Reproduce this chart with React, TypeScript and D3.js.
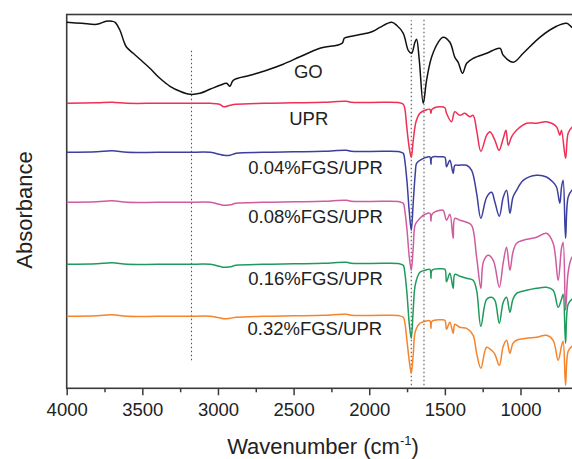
import React, {useEffect, useRef} from 'react';
import * as d3 from "d3";

// spectra as [wavenumber, shift from the trace's own baseline]
const goSpectrum = [
    [4000, 0], [3900, -1], [3800, -2], [3740, 1], [3700, 1], [3680, 0], [3648, -8], [3620, -20],
    [3604, -25], [3560, -31], [3516, -37], [3450, -46], [3384, -56], [3317, -64], [3251, -69],
    [3185, -72], [3119, -71], [3053, -67], [2987, -63], [2943, -61], [2921, -64], [2899, -58],
    [2788, -53], [2678, -48], [2569, -42], [2458, -34.5], [2326, -26], [2180, -21], [2165, -16],
    [2149, -15], [2017, -11], [1975, -9], [1929, -5], [1852, 0], [1819, -3], [1775, -11],
    [1742, -28], [1720, -31], [1698, -20], [1687, -17], [1669, -38], [1643, -81], [1621, -58],
    [1588, -35], [1544, -20], [1511, -15], [1467, -20], [1434, -35], [1412, -40], [1383, -51],
    [1356, -41], [1313, -36], [1224, -31], [1136, -26], [1114, -33], [1048, -40], [982, -31],
    [872, -15], [762, -4], [695, -1], [660, -5], [620, -8]
];

const uprSpectrum = [
    [4000, 0], [3800, 0.5], [3700, 1], [3600, 0], [3400, 0], [3200, 0], [3050, 0], [2990, -1],
    [2960, -3.5], [2920, -2], [2880, -1], [2700, 0], [2500, 0.5], [2300, 1], [2150, 2], [2120, 1],
    [1900, 1], [1800, 0.5], [1775, -1], [1765, -5], [1753, -22], [1735, -45], [1722, -54],
    [1709, -37], [1690, -18], [1665, -10], [1630, -7], [1599, -6], [1592, -10], [1585, -6],
    [1533, -3.5], [1500, -4.5], [1489, -10], [1456, -18.5], [1434, -8.5], [1401, -12], [1368, -10],
    [1335, -13.5], [1313, -12], [1290, -27], [1262, -48], [1224, -32], [1202, -28.5], [1169, -37],
    [1142, -47], [1114, -35], [1096, -27], [1081, -42], [1059, -33.5], [1026, -27], [960, -20],
    [894, -20], [828, -18.5], [762, -23.5], [740, -32], [729, -27], [702, -55], [685, -30],
    [660, -24], [620, -22]
];

const fgs004Spectrum = [
    [4000, 0], [3800, 0.5], [3700, 1.5], [3600, 0], [3400, 0], [3200, 0], [3050, 0], [2990, -2],
    [2960, -3], [2920, -3], [2880, -1], [2700, 0], [2500, 0.5], [2300, 1], [2150, 2], [2120, 1],
    [1900, 1], [1800, 0.5], [1775, -1], [1765, -8], [1750, -30], [1735, -60], [1722, -78],
    [1709, -50], [1695, -20], [1687, -11], [1654, -7], [1621, -5], [1599, -4.5], [1592, -12],
    [1585, -5], [1533, -4.5], [1500, -5], [1489, -14.5], [1467, -8], [1445, -21], [1434, -13],
    [1412, -13], [1356, -13], [1323, -18], [1290, -41], [1262, -66], [1224, -45], [1191, -40],
    [1169, -50], [1140, -64], [1114, -45], [1092, -38], [1070, -61], [1050, -45], [1026, -38],
    [982, -28], [894, -23], [828, -24.7], [784, -30], [762, -34.7], [740, -51], [729, -35],
    [718, -28], [702, -86], [685, -45], [660, -38], [620, -35]
];

const fgs008Spectrum = [
    [4000, 0], [3800, 0.5], [3700, 1.5], [3600, 0], [3400, 0], [3200, 0], [3050, 0], [2990, -2],
    [2960, -3], [2920, -2.5], [2880, -1], [2700, 0], [2500, 0.5], [2300, 1], [2150, 2], [2120, 1],
    [1900, 1], [1800, 0.5], [1775, -1], [1765, -8], [1750, -28], [1735, -55], [1722, -68],
    [1709, -45], [1695, -22], [1665, -16], [1630, -12], [1599, -11], [1592, -19], [1585, -12],
    [1533, -8], [1511, -8], [1489, -18], [1467, -12], [1445, -36], [1434, -16], [1401, -18],
    [1356, -20], [1323, -23], [1290, -55], [1262, -86], [1246, -60], [1215, -53], [1180, -58],
    [1140, -85], [1114, -60], [1092, -45], [1070, -68], [1050, -50], [1026, -41], [982, -38],
    [894, -35], [828, -31], [784, -41], [751, -78], [729, -46], [718, -40], [702, -108],
    [685, -70], [660, -55], [620, -50]
];

const fgs016Spectrum = [
    [4000, 0], [3800, 0.5], [3700, 1.5], [3600, 0], [3400, 0], [3200, 0], [3050, 0], [2990, -2],
    [2960, -3], [2920, -2.5], [2880, -1], [2700, 0], [2500, 0.5], [2300, 1], [2150, 2], [2120, 1],
    [1900, 1], [1800, 0.5], [1775, -1], [1765, -8], [1750, -30], [1735, -60], [1722, -74],
    [1709, -45], [1695, -20], [1665, -8], [1630, -6], [1599, -5], [1592, -14], [1585, -6],
    [1533, -4.5], [1500, -5], [1489, -17.5], [1467, -9], [1445, -24], [1434, -10], [1401, -12],
    [1356, -14], [1313, -16], [1290, -26], [1262, -62], [1224, -35], [1191, -33], [1169, -36],
    [1140, -59], [1114, -38], [1092, -33], [1070, -48], [1050, -35], [1026, -29], [960, -26],
    [894, -24], [828, -23], [784, -26], [751, -43], [729, -35], [718, -30], [702, -79],
    [685, -40], [660, -35], [620, -33]
];

const fgs032Spectrum = [
    [4000, 0], [3800, 0.5], [3700, 1.5], [3600, 0], [3400, 0], [3200, 0], [3050, 0], [2990, -1.5],
    [2960, -2.5], [2920, -2], [2880, -1], [2700, 0], [2500, 0.5], [2300, 1], [2150, 2], [2120, 1],
    [1900, 1], [1800, 0.5], [1775, -1], [1765, -6], [1750, -25], [1735, -45], [1722, -57],
    [1709, -38], [1695, -15], [1665, -7], [1630, -5], [1599, -4.5], [1592, -12], [1585, -5],
    [1533, -3.5], [1500, -4], [1489, -13], [1467, -6], [1445, -17], [1434, -8], [1401, -11],
    [1356, -12], [1313, -19], [1290, -37], [1262, -52], [1224, -31], [1191, -34], [1169, -38],
    [1140, -49], [1114, -30], [1092, -24], [1070, -37], [1050, -27], [1026, -24], [960, -22],
    [894, -21], [828, -19], [784, -24], [751, -44], [729, -30], [718, -25], [702, -69],
    [685, -35], [660, -30], [620, -28]
];

const seriesNames = ["GO", "UPR", "0.04%FGS/UPR", "0.08%FGS/UPR", "0.16%FGS/UPR", "0.32%FGS/UPR"];
const seriesData = [goSpectrum, uprSpectrum, fgs004Spectrum, fgs008Spectrum, fgs016Spectrum, fgs032Spectrum];
const seriesOffsets = [366, 285, 236, 186, 124, 72];
const seriesColors = ["#111111", "#f02f55", "#3b3f9f", "#cf5c9e", "#1f9a5c", "#f5842b"];
// where each name sits: [wavenumber, absorbance, anchor]
const labelSpots: [number, number, string][] = [
    [2403, 310, "middle"], [2400, 263, "middle"], [2800, 214, "start"],
    [2800, 165, "start"], [2800, 103, "start"], [2805, 53, "start"]
];

const majorTicks = [4000, 3500, 3000, 2500, 2000, 1500, 1000];
const minorTicks = [3750, 3250, 2750, 2250, 1750, 1250, 750];
// dotted guide lines: [wavenumber, from, to]
const guideLines = [[3175, 28, 338], [1722, 3, 368], [1638, 3, 369]];

const FONT = "'Liberation Sans', Arial, Helvetica, sans-serif";

function FtirChart() {
    const ref = useRef<SVGSVGElement>(null);

    useEffect(() => {
        const svg = d3.select(ref.current);
        svg.selectAll("*").remove();

        const left = 66.7, top = 14.5, bottom = 388.3, right = 581;

        const x = d3.scaleLinear().domain([4000, 600]).range([left, right]);
        const y = d3.scaleLinear().domain([0, bottom - top]).range([bottom, top]);

        //frame
        svg.append("rect")
            .attr("x", left)
            .attr("y", top)
            .attr("width", right + 20 - left)
            .attr("height", bottom - top)
            .attr("fill", "none")
            .attr("stroke", "#3a3a3a")
            .attr("stroke-width", 1.6);

        //dotted guides
        guideLines.forEach(g => {
            svg.append("line")
                .attr("x1", x(g[0])).attr("x2", x(g[0]))
                .attr("y1", y(g[1])).attr("y2", y(g[2]))
                .attr("stroke", "#555")
                .attr("stroke-width", 1.1)
                .attr("stroke-dasharray", "1.5,2.5");
        });

        //spectra
        const line = d3.line<number[]>()
            .x(d => x(d[0]))
            .curve(d3.curveCatmullRom.alpha(0.5));

        seriesData.forEach((s, i) => {
            line.y(d => y(seriesOffsets[i] + d[1]));
            svg.append("path")
                .attr("d", line(s))
                .attr("fill", "none")
                .attr("stroke", seriesColors[i])
                .attr("stroke-width", 1.5)
                .attr("stroke-linejoin", "round");
        });

        //names
        seriesNames.forEach((n, i) => {
            const [w, a, anchor] = labelSpots[i];
            svg.append("text")
                .attr("x", x(w))
                .attr("y", y(a))
                .attr("text-anchor", anchor)
                .attr("font-family", FONT)
                .attr("font-size", 18.5)
                .attr("fill", "#222")
                .text(n);
        });

        //x axis
        const axis = svg.append("g").attr("transform", "translate(0," + bottom + ")");
        axis.call(d3.axisBottom(x).tickValues(majorTicks).tickSize(7).tickPadding(8).tickFormat(d3.format("d")));
        axis.select(".domain").remove();
        axis.selectAll("line").attr("stroke", "#3a3a3a").attr("stroke-width", 1.5);
        axis.selectAll("text")
            .attr("font-family", FONT)
            .attr("font-size", 18.5)
            .attr("fill", "#222");

        const minor = svg.append("g").attr("transform", "translate(0," + bottom + ")");
        minor.call(d3.axisBottom(x).tickValues(minorTicks).tickSize(4).tickFormat(() => ""));
        minor.select(".domain").remove();
        minor.selectAll("line").attr("stroke", "#3a3a3a").attr("stroke-width", 1.5);

        //titles
        const xt = svg.append("text")
            .attr("x", 323)
            .attr("y", 454)
            .attr("text-anchor", "middle")
            .attr("font-family", FONT)
            .attr("font-size", 22)
            .attr("fill", "#222");
        xt.append("tspan").text("Wavenumber (cm");
        xt.append("tspan").attr("dy", -9).attr("font-size", 13).text("-1");
        xt.append("tspan").attr("dy", 9).text(")");

        svg.append("text")
            .attr("transform", "translate(31.5,210) rotate(-90)")
            .attr("text-anchor", "middle")
            .attr("font-family", FONT)
            .attr("font-size", 22)
            .attr("fill", "#222")
            .text("Absorbance");
    }, []);

    return (
        <svg ref={ref} width={572} height={459}
             style={{position: "absolute", left: 0, top: 0, background: "#fff"}}/>
    );
}

export default function App() {
    return <FtirChart/>;
}
